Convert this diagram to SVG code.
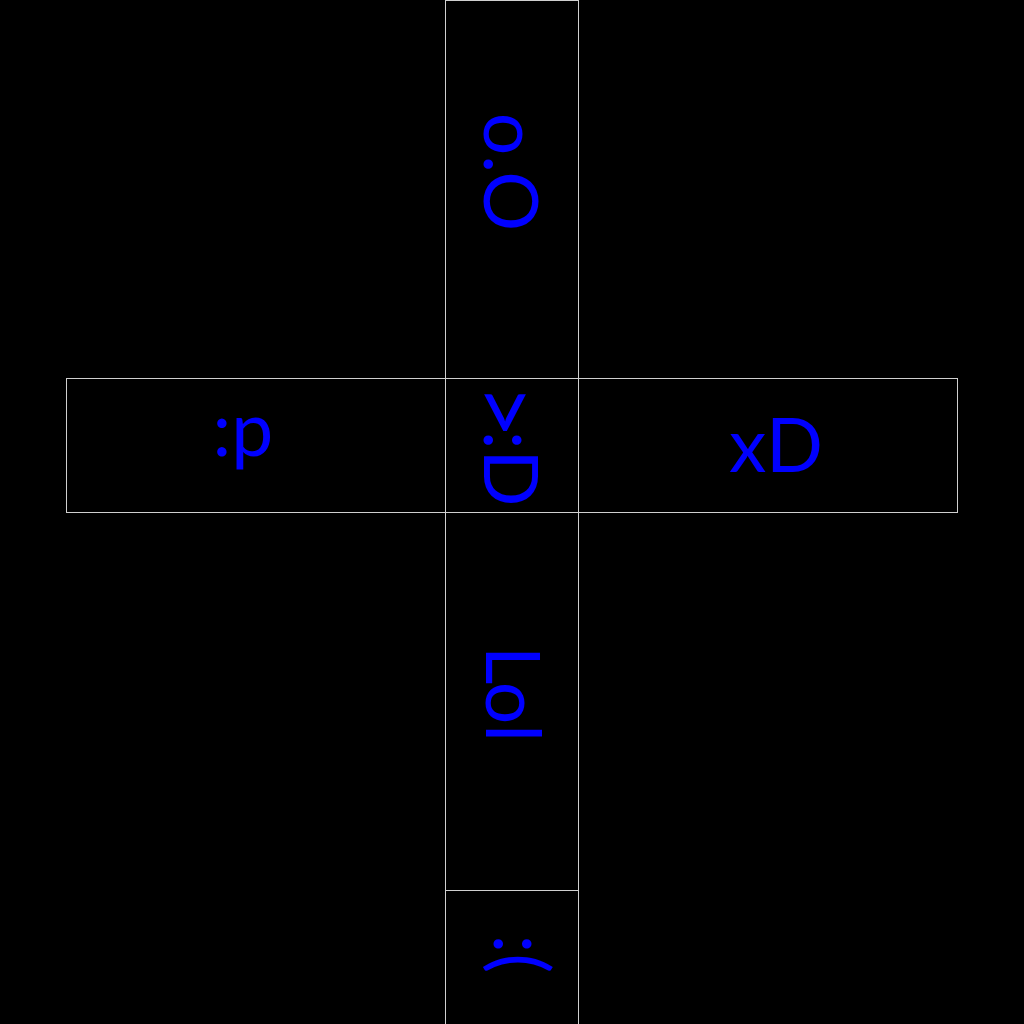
<svg xmlns="http://www.w3.org/2000/svg" width="1024" height="1024" viewBox="0 0 1024 1024">
<style>
.box{fill:none;stroke:#d0d0d0;stroke-width:1}
.t{font-family:Lato,sans-serif;font-size:75px;fill:#0000ff;text-anchor:middle}
</style>
<rect width="1024" height="1024" fill="#000"/>
<g id="n-top"><rect class="box" x="445.5" y="0.5" width="133" height="378"/><text class="t" transform="translate(484,172) rotate(90)">o.O</text></g>
<g id="n-left"><rect class="box" x="66.5" y="378.5" width="379" height="134"/><text class="t" x="243" y="456">:p</text></g>
<g id="n-center"><rect class="box" x="445.5" y="378.5" width="133" height="134"/><text class="t" transform="translate(484,445) rotate(90)"><tspan font-size="95" dy="11">&gt;</tspan><tspan dy="-11" dx="-8">:D</tspan></text></g>
<g id="n-right"><rect class="box" x="578.5" y="378.5" width="379" height="134"/><text class="t" x="776" y="472">xD</text></g>
<g id="n-bottom"><rect class="box" x="445.5" y="512.5" width="133" height="378"/><text class="t" transform="translate(486,694) rotate(90)">Lol</text></g>
<g id="n-last"><rect class="box" x="445.5" y="890.5" width="133" height="140"/><text class="t" transform="translate(494,954) rotate(90)">:(</text></g>
<g id="connectors"></g>
</svg>
